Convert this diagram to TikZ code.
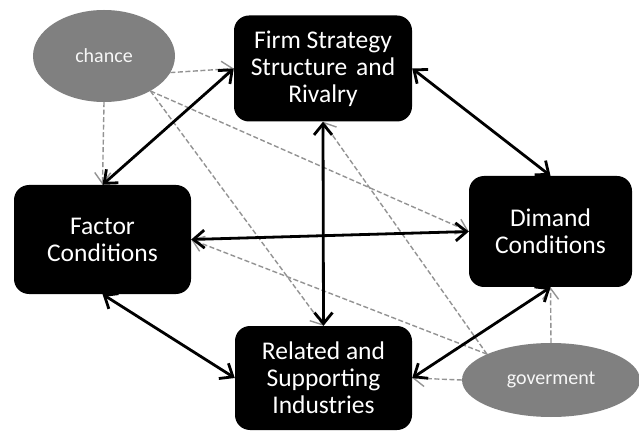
\documentclass[tikz,border=0pt]{standalone}
\usepackage{fontspec}
\setmainfont{Carlito}
\usetikzlibrary{arrows.meta,shapes.geometric}

\begin{document}
\begin{tikzpicture}[x=1pt,y=-1pt,
        box/.style={rectangle,fill=black,rounded corners=15pt,text=white,align=center,font=\fontsize{25.5}{27}\selectfont,inner sep=0pt},
        blob/.style={ellipse,fill=gray,text=white!94!gray,font=\fontsize{20}{22}\selectfont,inner sep=0pt},
        link/.style={{Straight Barb[length=11pt,width=18pt]}-{Straight Barb[length=11pt,width=18pt]},line width=2.8pt},
        hint/.style={-{Straight Barb[length=11pt,width=16pt]},line width=1.4pt,gray!85,dash pattern=on 5pt off 2.5pt}]
        \useasboundingbox (0,0) rectangle (639,435);
        \node [box,minimum width=178pt,minimum height=106pt] (firm) at (323,68.5) {Firm Strategy\\Structure\hspace{0.35em}and\\Rivalry};
        \node [box,minimum width=177pt,minimum height=109pt] (factor) at (102.5,239.5) {Factor\\Conditions};
        \node [box,minimum width=163pt,minimum height=111pt] (dimand) at (550.5,231.5) {Dimand\\Conditions};
        \node [box,minimum width=177pt,minimum height=104pt] (related) at (323.5,378) {Related and\\Supporting\\Industries};
        \node [blob,minimum width=142pt,minimum height=92pt] (chance) at (104,56) {chance};
        \node [blob,minimum width=178pt,minimum height=74pt] (gov) at (551,380) {goverment};
        \draw[hint] (chance.-14) -- (firm.west);
        \draw[hint] (chance.south) -- (factor.north);
        \draw[hint] (chance.-37) -- (dimand.west);
        \draw[hint] (chance.-37) -- (related.north);
        \draw[hint] (gov.west) -- (related.east);
        \draw[hint] (gov.north) -- (dimand.south);
        \draw[hint] (gov.158) -- (firm.south);
        \draw[hint] (gov.158) -- (factor.east);
        \draw[link] (factor.north) -- (firm.west);
        \draw[link] (firm.east) -- (dimand.north);
        \draw[link] (firm.south) -- (related.north);
        \draw[link] (factor.east) -- (dimand.west);
        \draw[link] (factor.south) -- (related.west);
        \draw[link] (related.east) -- (dimand.south);
        \end{tikzpicture}
\end{document}
